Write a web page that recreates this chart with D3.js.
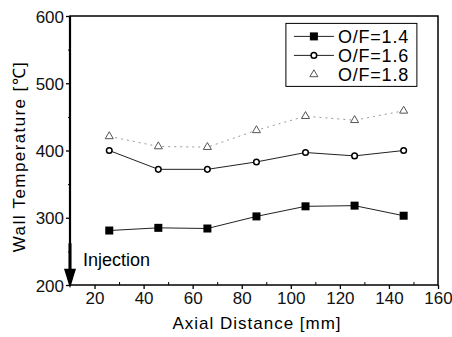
<!DOCTYPE html>
<html>
<head>
<meta charset="utf-8">
<script src="https://cdn.jsdelivr.net/npm/d3@7"></script>
<style>
  body { margin: 0; background: #fff; overflow: hidden; }
  svg { display: block; font-family: Arial, "Liberation Sans", sans-serif; }
</style>
</head>
<body>
<svg id="chart"></svg>
<script>
// Dados
const distances = [26, 46, 66, 86, 106, 126, 146];
const of14 = [281, 285, 284, 302, 317, 318, 303];
const of16 = [400, 372, 372, 383, 397, 392, 400];
const of18 = [421, 406, 405, 430, 451, 445, 459];
const seriesNames = ["O/F=1.4", "O/F=1.6", "O/F=1.8"];
const xTicks = [20, 40, 60, 80, 100, 120, 140, 160];
const yTicks = [200, 300, 400, 500, 600];

const width = 452, height = 337;
const margin = { left: 70, top: 16, right: 14, bottom: 52 };
const innerWidth = width - margin.left - margin.right;
const innerHeight = height - margin.top - margin.bottom;

const svg = d3.select("#chart").attr("width", width).attr("height", height);

const x = d3.scaleLinear().domain([10, 160]).range([0, innerWidth]);
const y = d3.scaleLinear().domain([200, 600]).range([innerHeight, 0]);

const g = svg.append("g").attr("transform", `translate(${margin.left},${margin.top})`);

// Moldura
g.append("rect")
  .attr("width", innerWidth).attr("height", innerHeight)
  .attr("fill", "none").attr("stroke", "#000").attr("stroke-width", 1.5);
g.append("line").attr("x1", 0).attr("x2", 0).attr("y1", 0).attr("y2", innerHeight)
  .attr("stroke", "#000").attr("stroke-width", 2.2);

// Eixo Y
const yAxis = g.append("g")
  .call(d3.axisLeft(y).tickValues(yTicks).tickSize(4).tickPadding(2))
  .attr("font-size", 17)
  .attr("font-family", null);
yAxis.select(".domain").remove();
yAxis.selectAll("line").attr("stroke-width", 1.3);
yAxis.selectAll("text").attr("fill", "#111").attr("dy", 6);
g.append("g")
  .call(d3.axisLeft(y).tickValues([250, 350, 450, 550]).tickSize(2).tickFormat(""))
  .select(".domain").remove();

// Eixo X
const xAxis = g.append("g")
  .attr("transform", `translate(0,${innerHeight})`)
  .call(d3.axisBottom(x).tickValues(xTicks).tickSize(4).tickPadding(3))
  .attr("font-size", 17)
  .attr("font-family", null);
xAxis.select(".domain").remove();
xAxis.selectAll("line").attr("stroke-width", 1.3);
xAxis.selectAll("text").attr("fill", "#111").attr("dy", 12);
g.append("g")
  .attr("transform", `translate(0,${innerHeight})`)
  .call(d3.axisTop(x).tickValues([30, 50, 70, 90, 110, 130, 150]).tickSize(3).tickFormat(""))
  .select(".domain").remove();

// Títulos dos eixos
svg.append("text")
  .attr("x", margin.left + innerWidth / 2 + 3).attr("y", 329)
  .attr("text-anchor", "middle").attr("font-size", 17).style("letter-spacing", "1px")
  .text("Axial Distance [mm]");
svg.append("text")
  .attr("transform", `translate(25,${margin.top + innerHeight / 2 + 6}) rotate(-90)`)
  .attr("text-anchor", "middle").attr("font-size", 17).style("letter-spacing", "1.4px")
  .text("Wall Temperature [℃]");

// Séries
const rows = d => distances.map((dx, i) => ({ x: dx, y: d[i] }));
const line = d3.line().x(d => x(d.x)).y(d => y(d.y));

g.append("path").datum(rows(of18)).attr("d", line)
  .attr("fill", "none").attr("stroke", "#999").attr("stroke-width", 1).attr("stroke-dasharray", "2,4");
g.append("path").datum(rows(of16)).attr("d", line)
  .attr("fill", "none").attr("stroke", "#222").attr("stroke-width", 1);
g.append("path").datum(rows(of14)).attr("d", line)
  .attr("fill", "none").attr("stroke", "#222").attr("stroke-width", 1);

const tri = d3.symbol().type(d3.symbolTriangle).size(28);
g.selectAll(".tri").data(rows(of18)).enter().append("path")
  .attr("transform", d => `translate(${x(d.x)},${y(d.y)})`)
  .attr("d", tri).attr("fill", "#fff").attr("stroke", "#555").attr("stroke-width", 1);
g.selectAll(".circ").data(rows(of16)).enter().append("circle")
  .attr("cx", d => x(d.x)).attr("cy", d => y(d.y)).attr("r", 2.8)
  .attr("fill", "#fff").attr("stroke", "#000").attr("stroke-width", 1.5);
g.selectAll(".sq").data(rows(of14)).enter().append("rect")
  .attr("x", d => x(d.x) - 4).attr("y", d => y(d.y) - 4)
  .attr("width", 8).attr("height", 8).attr("fill", "#000");

// Seta de injeção
const ax = x(10);
g.append("line")
  .attr("x1", ax).attr("x2", ax).attr("y1", y(262)).attr("y2", y(220))
  .attr("stroke", "#000").attr("stroke-width", 3);
g.append("path")
  .attr("d", `M${ax - 6},${y(224)} L${ax + 6},${y(224)} L${ax},${y(195)} Z`)
  .attr("fill", "#000");
g.append("text")
  .attr("x", ax + 13).attr("y", y(228))
  .attr("font-size", 18).text("Injection");

// Legenda
const legend = g.append("g").attr("transform", `translate(${x(98)},${y(589)})`);
legend.append("rect")
  .attr("width", 131).attr("height", 63)
  .attr("fill", "#fff").attr("stroke", "#000").attr("stroke-width", 1);
seriesNames.forEach((name, i) => {
  const ly = 13 + i * 19;
  const row = legend.append("g").attr("transform", `translate(0,${ly})`);
  if (i < 2) {
    row.append("line").attr("x1", 8).attr("x2", 48).attr("stroke", "#222").attr("stroke-width", 1);
  }
  if (i === 0) {
    row.append("rect").attr("x", 24).attr("y", -4).attr("width", 8).attr("height", 8).attr("fill", "#000");
  } else if (i === 1) {
    row.append("circle").attr("cx", 28).attr("r", 2.8).attr("fill", "#fff").attr("stroke", "#000").attr("stroke-width", 1.5);
  } else {
    row.append("path").attr("transform", "translate(28,0)").attr("d", tri)
      .attr("fill", "#fff").attr("stroke", "#555");
  }
  row.append("text").attr("x", 52).attr("y", 7)
    .attr("font-size", 18).style("letter-spacing", "0.8px").text(name);
});
</script>
</body>
</html>
